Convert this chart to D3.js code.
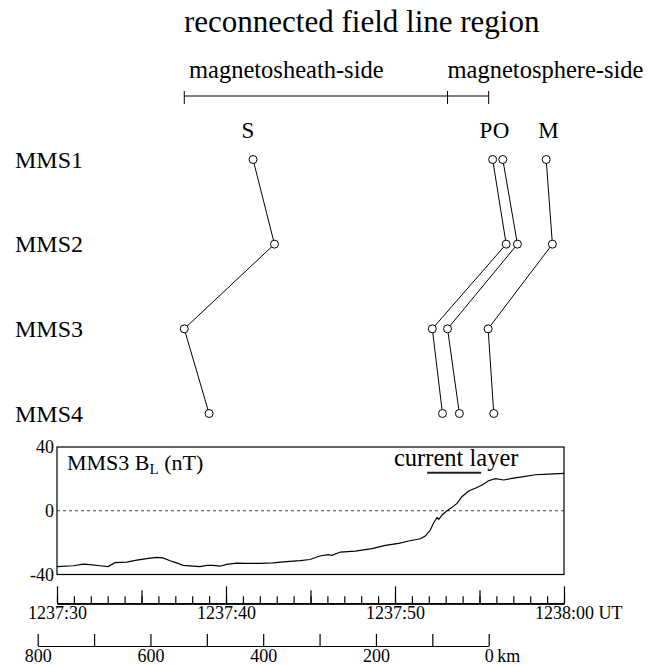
<!DOCTYPE html>
<html>
<head>
<meta charset="utf-8">
<script src="https://cdn.jsdelivr.net/npm/d3@7/dist/d3.min.js"></script>
<style>
body { margin: 0; background: #fff; }
svg { display: block; font-family: "Liberation Serif", "DejaVu Serif", serif; }
text { fill: #000; }
</style>
</head>
<body>
<svg width="652" height="666"></svg>
<script>
// spacecraft rows and positions of each boundary (km along the path)
const spacecraft = ['MMS1', 'MMS2', 'MMS3', 'MMS4'];
const boundaryNames = ['S', 'P', 'O', 'M'];
const boundaryLabelKm = [427, 5, -22, -106];
const sKm = [418, 380, 540, 496];
const pKm = [-7, -31, 100, 82];
const oKm = [-25, -51, 73, 52];
const mKm = [-102, -113, 1, -9];
const regionKm = [540, 73, 0];

// MMS3 BL time series, seconds after 1237:30
const tSec = [0, 0.96, 1.56, 1.95, 2.54, 3.02, 3.43, 4.12, 4.72, 5.31, 5.9, 6.27, 6.69, 7.08, 7.46, 8.05,
  8.46, 8.86, 9.23, 9.64, 10.04, 10.63, 11.22, 12.01, 12.78, 13.59, 14.38, 14.97, 15.56, 16.04, 16.27,
  16.76, 17.65, 18.64, 19.43, 20.22, 20.81, 21.5, 21.79, 22.09, 22.29, 22.49, 22.59, 22.82, 23.08, 23.47,
  23.67, 23.96, 24.36, 24.75, 25.15, 25.54, 25.94, 26.43, 26.92, 27.51, 28.3, 29.09, 30];
const bL = [-35.1, -34.5, -33.5, -33.8, -34.5, -35, -32.6, -32.2, -31, -30, -29.2, -29.6, -31.4, -32.7, -34.3, -34.8,
  -35.1, -34.3, -34.3, -34.8, -33.7, -32.9, -33, -33, -32.7, -31.9, -31.3, -30.6, -28.4, -27.5, -28,
  -25.9, -25.3, -23.8, -21.7, -20.5, -19, -17.6, -15.9, -12.1, -7.5, -4.2, -5.4, -2.3, 0, 2.9,
  4.6, 8.8, 12.4, 14.1, 16.1, 18.8, 20.1, 19.3, 20.3, 21.3, 22.6, 23, 23.4];
const currentLayer = [21.9, 25.1];
const timeLabels = ['1237:30', '1237:40', '1237:50', '1238:00'];
const kmTicks = d3.range(0, 801, 100);

const svg = d3.select('svg');

// scales
const xKm = d3.scaleLinear().domain([800, 0]).range([37.7, 488.7]);
const yRow = d3.scalePoint().domain(spacecraft).range([159.5, 413.5]);
const xT = d3.scaleLinear().domain([0, 30]).range([57, 564]);
const yB = d3.scaleLinear().domain([-40, 40]).range([574.5, 447]);

// title and region bracket
svg.append('text').attr('x', 184).attr('y', 32).attr('font-size', 31)
  .text('reconnected field line region');
svg.append('text').attr('x', 189).attr('y', 78).attr('font-size', 24.5).text('magnetosheath-side');
svg.append('text').attr('x', xKm(regionKm[1])).attr('y', 78).attr('font-size', 24.5).text('magnetosphere-side');

const bracket = svg.append('g').attr('stroke', '#000').attr('stroke-width', 1);
bracket.append('line').attr('x1', xKm(regionKm[0])).attr('x2', xKm(regionKm[2]))
  .attr('y1', 96).attr('y2', 96);
bracket.selectAll('line.tk').data(regionKm).enter().append('line').classed('tk', true)
  .attr('x1', d => xKm(d)).attr('x2', d => xKm(d)).attr('y1', 91).attr('y2', 104);

// boundary letters
svg.selectAll('text.bname').data(boundaryNames).enter().append('text').classed('bname', true)
  .attr('x', (d, i) => xKm(boundaryLabelKm[i])).attr('y', 138)
  .attr('text-anchor', 'middle').attr('font-size', 23).text(d => d);

// spacecraft labels
svg.selectAll('text.sc').data(spacecraft).enter().append('text').classed('sc', true)
  .attr('x', 15).attr('y', d => yRow(d) + 8).attr('font-size', 24).text(d => d);

// boundary crossing lines + circles
const series = [sKm, pKm, oKm, mKm];
const pathLine = d3.line().x(d => xKm(d.km)).y(d => yRow(d.sc));
const marks = svg.append('g');
series.forEach(s => {
  const pts = s.map((km, i) => ({ km: km, sc: spacecraft[i] }));
  marks.append('path').datum(pts).attr('d', pathLine)
    .attr('fill', 'none').attr('stroke', '#000').attr('stroke-width', 1);
});
series.forEach(s => {
  const pts = s.map((km, i) => ({ km: km, sc: spacecraft[i] }));
  marks.selectAll(null).data(pts).enter().append('circle')
    .attr('cx', d => xKm(d.km)).attr('cy', d => yRow(d.sc)).attr('r', 4)
    .attr('fill', '#fff').attr('stroke', '#000').attr('stroke-width', 1);
});

// BL panel
const panel = svg.append('g');
panel.append('line').attr('x1', xT(0)).attr('x2', xT(30)).attr('y1', yB(0)).attr('y2', yB(0))
  .attr('stroke', '#444').attr('stroke-width', 1.2).attr('stroke-dasharray', '3,3');
const data = tSec.map((t, i) => ({ t: t, b: bL[i] }));
panel.append('path').datum(data)
  .attr('d', d3.line().x(d => xT(d.t)).y(d => yB(d.b)))
  .attr('fill', 'none').attr('stroke', '#000').attr('stroke-width', 1.2);
panel.append('rect').attr('x', xT(0)).attr('y', yB(40))
  .attr('width', xT(30) - xT(0)).attr('height', yB(-40) - yB(40))
  .attr('fill', 'none').attr('stroke', '#000').attr('stroke-width', 1.2);

panel.selectAll('text.yl').data([40, 0, -40]).enter().append('text').classed('yl', true)
  .attr('x', xT(0) - 3).attr('y', d => yB(d) + 6).attr('text-anchor', 'end')
  .attr('font-size', 18).text(d => d);

const lab = panel.append('text').attr('x', 67).attr('y', 470).attr('font-size', 22);
lab.append('tspan').text('MMS3 B');
lab.append('tspan').attr('font-size', 15).attr('dy', 4).text('L');
lab.append('tspan').attr('dy', -4).text(' (nT)');

panel.append('text').attr('x', 394).attr('y', 466).attr('font-size', 24.5).text('current layer');
panel.append('line').attr('x1', xT(currentLayer[0])).attr('x2', xT(currentLayer[1]))
  .attr('y1', 472.7).attr('y2', 472.7).attr('stroke', '#222').attr('stroke-width', 2);

// time axis: 1 s, 5 s and 10 s ticks
function styleAxis(g) {
  g.attr('font-family', null).attr('font-size', null);
  g.selectAll('path.domain').attr('stroke', '#000').attr('stroke-width', 1.2);
  g.selectAll('.tick line').attr('stroke', '#000').attr('stroke-width', 1.2);
  g.selectAll('.tick text').attr('font-size', 18).attr('fill', '#000');
}
const tAxisY = 603.3;
svg.append('g').attr('transform', `translate(0,${tAxisY})`)
  .call(d3.axisBottom(xT).tickValues(d3.range(0, 31, 1)).tickSize(-7).tickSizeOuter(0).tickFormat(''))
  .call(styleAxis);
svg.append('g').attr('transform', `translate(0,${tAxisY})`)
  .call(d3.axisBottom(xT).tickValues([5, 15, 25]).tickSize(-13).tickSizeOuter(0).tickFormat(''))
  .call(styleAxis);
const major = svg.append('g').attr('transform', `translate(0,${tAxisY})`)
  .call(d3.axisBottom(xT).tickValues([0, 10, 20, 30]).tickSize(-17).tickSizeOuter(0)
    .tickPadding(3).tickFormat((d, i) => timeLabels[i]))
  .call(styleAxis);
major.selectAll('.tick text').filter(d => d === 30).each(function () {
  const w = this.getComputedTextLength();
  d3.select(this).attr('text-anchor', 'start').attr('x', -w / 2).text('1238:00 UT');
});

// distance axis
svg.append('g').attr('transform', 'translate(0,646)')
  .call(d3.axisBottom(xKm).tickValues(kmTicks).tickSize(-12).tickSizeOuter(0)
    .tickPadding(3).tickFormat(d => d % 200 === 0 ? d : ''))
  .call(styleAxis)
  .selectAll('.tick text').filter(d => d === 0).each(function () {
    const w = this.getComputedTextLength();
    d3.select(this).attr('text-anchor', 'start').attr('x', -w / 2).text('0\u2009km');
  });
</script>
</body>
</html>
